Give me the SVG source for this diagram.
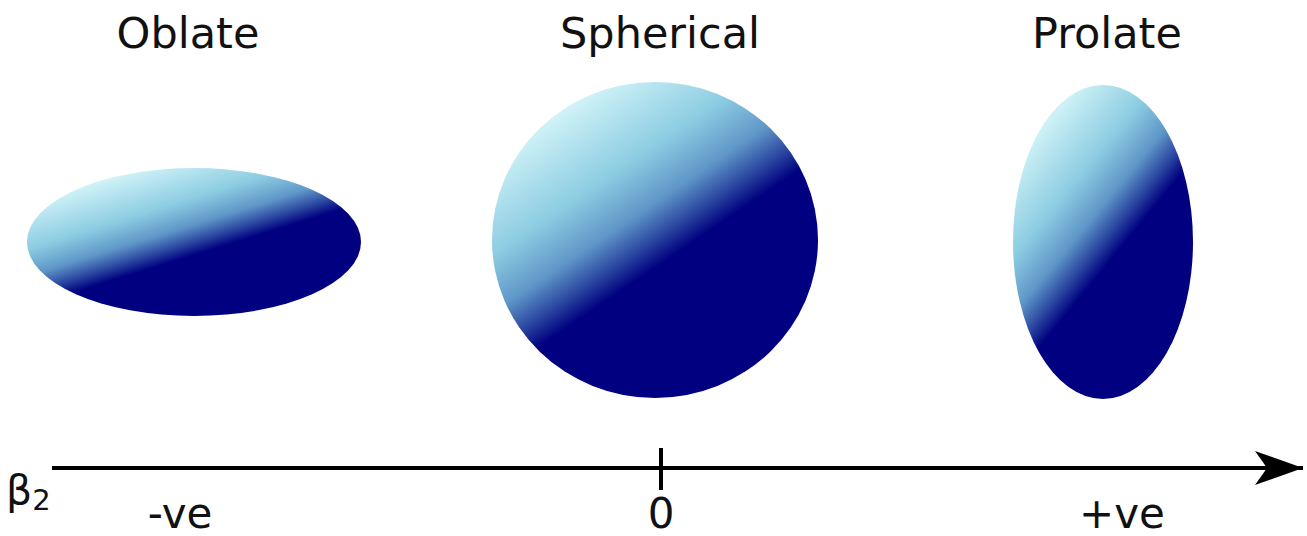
<svg xmlns="http://www.w3.org/2000/svg" width="1307" height="536" viewBox="0 0 1307 536">
<defs>
<linearGradient id="g" x1="0.15" y1="0" x2="0.85" y2="1">
<stop offset="0" stop-color="#e6fbfd"/>
<stop offset="0.1" stop-color="#cdf1f6"/>
<stop offset="0.3" stop-color="#8ccce2"/>
<stop offset="0.42" stop-color="#5f97c8"/>
<stop offset="0.5" stop-color="#2a45a0"/>
<stop offset="0.56" stop-color="#000080"/>
<stop offset="1" stop-color="#000080"/>
</linearGradient>
<marker id="arr" markerUnits="userSpaceOnUse" markerWidth="50" markerHeight="40" refX="48" refY="17" orient="auto">
<path d="M0,0 L48,17 L0,34 L12,17 Z" fill="#000"/>
</marker>
</defs>
<style>
text{font-family:"DejaVu Sans","Liberation Sans",sans-serif;fill:#111;text-anchor:middle}
.lbl{font-size:43px}
.bot{font-size:42px}
.shape{fill:url(#g)}
</style>
<g id="oblate">
<text class="lbl" x="188" y="48">Oblate</text>
<ellipse class="shape" cx="194" cy="242" rx="167" ry="74"/>
</g>
<g id="spherical">
<text class="lbl" x="660" y="48">Spherical</text>
<ellipse class="shape" cx="655" cy="240" rx="163" ry="158"/>
</g>
<g id="prolate">
<text class="lbl" x="1107" y="48">Prolate</text>
<ellipse class="shape" cx="1103" cy="242" rx="90" ry="157"/>
</g>
<g id="axis">
<line x1="52" y1="468" x2="1303" y2="468" stroke="#000" stroke-width="4" marker-end="url(#arr)"/>
<line x1="661" y1="448" x2="661" y2="490" stroke="#000" stroke-width="4"/>
<text x="6" y="504" style="font-size:41px;text-anchor:start">β<tspan font-size="29" dy="6">2</tspan></text>
<text class="bot" x="180" y="528">-ve</text>
<text class="bot" x="661" y="528">0</text>
<text class="bot" x="1122" y="528">+ve</text>
</g>
</svg>
